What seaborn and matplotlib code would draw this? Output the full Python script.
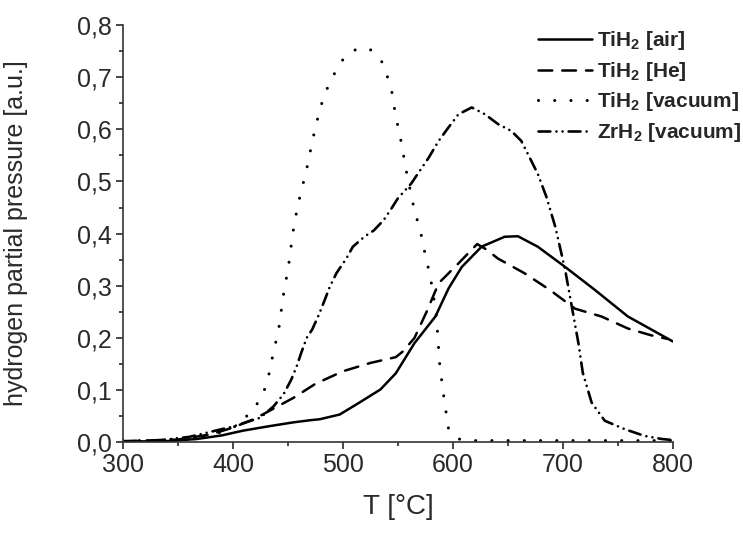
import matplotlib
matplotlib.use("Agg")
import matplotlib.pyplot as plt
import seaborn as sns
import pandas as pd
from matplotlib.ticker import MultipleLocator, FuncFormatter

# TiH2 in air (solid)
t_air = [300, 340, 367, 390, 409, 434, 455, 470, 479, 497, 515, 534, 548, 565,
         584, 596, 608, 626, 647, 659, 677, 702, 729, 759, 800]
p_air = [0.001, 0.002, 0.006, 0.013, 0.022, 0.031, 0.038, 0.042, 0.044, 0.053,
         0.076, 0.101, 0.132, 0.19, 0.241, 0.295, 0.336, 0.375, 0.394, 0.395,
         0.375, 0.336, 0.292, 0.241, 0.193]

# TiH2 in He (dashed)
t_he = [300, 350, 380, 400, 420, 440, 455, 475, 500, 525, 548, 555, 565, 576,
        587, 605, 622, 630, 641, 665, 688, 711, 735, 759, 780, 795]
p_he = [0.002, 0.005, 0.015, 0.028, 0.045, 0.068, 0.085, 0.112, 0.136, 0.152,
        0.163, 0.175, 0.2, 0.25, 0.305, 0.343, 0.38, 0.37, 0.352, 0.324, 0.292,
        0.256, 0.241, 0.218, 0.205, 0.198]

# TiH2 in vacuum (dotted)
t_vac = [300, 330, 358, 380, 403, 416, 426, 431, 434.5, 437, 441, 443, 445,
         447, 450, 452, 454, 456, 459, 462, 466, 469, 472, 475, 479, 483, 490,
         497, 510, 524, 536, 541, 545, 547, 550, 553, 558, 564, 568, 571.5,
         574.5, 578, 581, 585, 586, 588, 590, 592, 594, 596, 605, 620, 700, 800]
p_vac = [0.003, 0.003, 0.006, 0.012, 0.031, 0.057, 0.085, 0.115, 0.147, 0.177,
         0.208, 0.238, 0.27, 0.298, 0.33, 0.362, 0.394, 0.423, 0.453, 0.483,
         0.513, 0.545, 0.575, 0.605, 0.637, 0.667, 0.697, 0.728, 0.752, 0.755,
         0.728, 0.697, 0.667, 0.637, 0.605, 0.575, 0.515, 0.454, 0.422, 0.394,
         0.362, 0.33, 0.298, 0.241, 0.209, 0.146, 0.114, 0.082, 0.053, 0.025,
         0.006, 0.003, 0.003, 0.003]

# ZrH2 in vacuum (dash-dot-dot)
t_zr = [300, 330, 360, 380, 400, 425, 437, 446, 453, 458, 462, 467, 472, 478,
        484, 488, 494, 503, 509, 520, 528, 537, 544, 550, 562, 578, 587, 596,
        605, 617, 629, 641, 653, 662, 668, 677, 685, 693, 702, 708, 714, 718,
        726, 738, 756, 774, 790, 800]
p_zr = [0.001, 0.003, 0.01, 0.02, 0.03, 0.047, 0.069, 0.092, 0.12, 0.146,
        0.171, 0.2, 0.216, 0.244, 0.276, 0.298, 0.324, 0.352, 0.375, 0.395,
        0.406, 0.426, 0.448, 0.468, 0.496, 0.546, 0.578, 0.604, 0.629, 0.642,
        0.629, 0.61, 0.597, 0.578, 0.553, 0.515, 0.47, 0.413, 0.33, 0.26, 0.19,
        0.133, 0.076, 0.041, 0.025, 0.012, 0.006, 0.004]

labels = ["TiH$_2$ [air]", "TiH$_2$ [He]", "TiH$_2$ [vacuum]", "ZrH$_2$ [vacuum]"]
x_ticks = [300, 400, 500, 600, 700, 800]
y_ticks = [0.0, 0.1, 0.2, 0.3, 0.4, 0.5, 0.6, 0.7, 0.8]

sns.set_style("ticks")
plt.rcParams["font.family"] = ["Liberation Sans", "DejaVu Sans"]
plt.rcParams["mathtext.fontset"] = "custom"
plt.rcParams["mathtext.rm"] = "Liberation Sans"
plt.rcParams["mathtext.bf"] = "Liberation Sans:bold"
plt.rcParams["mathtext.default"] = "bf"

fig = plt.figure(figsize=(7.43, 5.34), dpi=100)
ax = fig.add_axes([0.1655, 0.172, 0.7403, 0.781])

# (x, y, linestyle, linewidth)
series = [
    (t_air, p_air, "-", 1.8),
    (t_he, p_he, (0, (5.5, 4)), 1.8),
    (t_vac, p_vac, (0, (0.01, 5.3)), 2.2),
    (t_zr, p_zr, (0, (4.5, 2.3, 0.01, 2.3, 0.01, 2.3)), 1.9),
]
for (t, p, ls, lw), lab in zip(series, labels):
    df = pd.DataFrame({"T": t, "p": p})
    sns.lineplot(data=df, x="T", y="p", ax=ax, color="black", linewidth=lw,
                 linestyle=ls, label=lab, dash_capstyle="round")

ax.set_xlim(300, 800)
ax.set_ylim(0, 0.8)
ax.set_xticks(x_ticks)
ax.set_yticks(y_ticks)
ax.xaxis.set_minor_locator(MultipleLocator(50))
ax.yaxis.set_minor_locator(MultipleLocator(0.05))
ax.yaxis.set_major_formatter(FuncFormatter(lambda v, _: f"{v:.1f}".replace(".", ",")))
ax.tick_params(which="major", direction="out", length=5, width=1.2,
               labelsize=18, colors="#2a2a2a", pad=3)
ax.tick_params(which="minor", direction="out", length=3, width=1.2)
for s in ["top", "right"]:
    ax.spines[s].set_visible(False)
for s in ["left", "bottom"]:
    ax.spines[s].set_linewidth(1.2)
    ax.spines[s].set_color("#333333")

ax.set_xlabel("T [°C]", fontsize=20, color="#2a2a2a", labelpad=12)
ax.set_ylabel("hydrogen partial pressure [a.u.]", fontsize=18, color="#2a2a2a")
ax.yaxis.set_label_coords(-0.172, 0.5)

leg = ax.legend(loc="upper left", bbox_to_anchor=(0.724, 0.945),
                bbox_transform=fig.transFigure, frameon=False, fontsize=15,
                handlelength=2.6, handletextpad=0.25, labelspacing=0.36,
                borderpad=0, borderaxespad=0)
for txt in leg.get_texts():
    txt.set_fontweight("bold")

fig.savefig("out.png", dpi=100)
